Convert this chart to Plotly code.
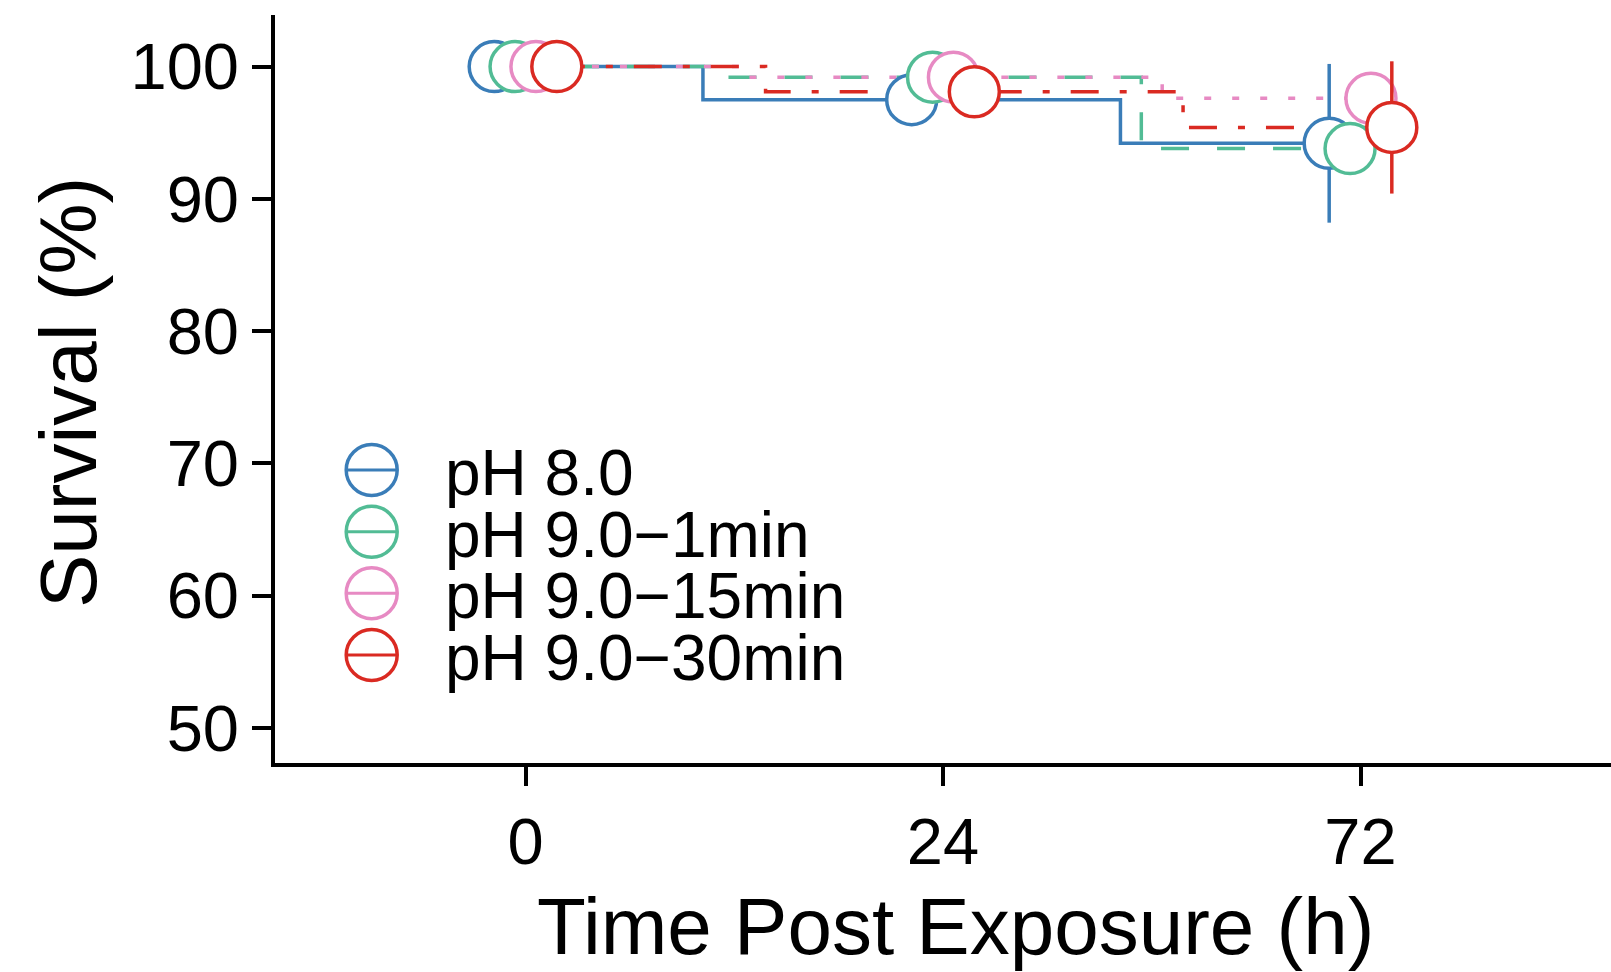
import plotly.graph_objects as go

# Survival at each sampling time, per treatment group
times = ["0", "24", "72"]
groups = ["pH 8.0", "pH 9.0\u22121min", "pH 9.0\u221215min", "pH 9.0\u221230min"]
surv_ph80 = [100.0, 97.5, 94.2]
surv_1min = [100.0, 99.2, 93.8]
surv_15min = [100.0, 99.2, 97.6]
surv_30min = [100.0, 98.1, 95.4]
err_ph80 = [0.0, 0.0, 6.0]
err_1min = [0.0, 0.0, 0.0]
err_15min = [0.0, 0.0, 0.0]
err_30min = [0.0, 0.0, 5.0]

series = [surv_ph80, surv_1min, surv_15min, surv_30min]
errors = [err_ph80, err_1min, err_15min, err_30min]
colors = ["#3A7DB8", "#52BC95", "#E78AC3", "#DA2A22"]
dashes = ["solid", "28px,28px", "7px,21px", "28px,21px,7px,21px"]
dodge = [-0.075, -0.025, 0.025, 0.075]

W, H = 1611, 972
L, R, T, B = 275, 0, 15, 209
FONT = "Liberation Sans, Arial, Helvetica, sans-serif"


def px_x(p):
    return (p - L) / (W - L - R)


def px_y(p):
    return (H - B - p) / (H - T - B)


fig = go.Figure()
pos = list(range(1, len(times) + 1))

# step lines (change halfway between time points)
for vals, col, dsh, off in zip(series, colors, dashes, dodge):
    fig.add_trace(go.Scatter(
        x=[p + off for p in pos], y=vals, mode="lines",
        line=dict(color=col, width=3.5, dash=dsh, shape="hvh"),
        showlegend=False, hoverinfo="skip"))

# points with error bars
for name, vals, errs, col, off in zip(groups, series, errors, colors, dodge):
    fig.add_trace(go.Scatter(
        x=[p + off for p in pos], y=vals, mode="markers", name=name,
        marker=dict(symbol="circle", size=50, color="white",
                    line=dict(color=col, width=3.5)),
        error_y=dict(type="data", array=errs, visible=True, color=col,
                     thickness=3.5, width=0),
        showlegend=False))

# legend drawn inside the plot area
shapes = []
annotations = []
leg_x = 371.7
leg_y = [470.0, 531.7, 593.3, 655.0]
for name, col, ly in zip(groups, colors, leg_y):
    shapes.append(dict(type="line", xref="paper", yref="paper",
                       xsizemode="pixel", ysizemode="pixel",
                       xanchor=px_x(leg_x), yanchor=px_y(ly),
                       x0=-26, x1=26, y0=0, y1=0,
                       line=dict(color=col, width=3)))
    shapes.append(dict(type="circle", xref="paper", yref="paper",
                       xsizemode="pixel", ysizemode="pixel",
                       xanchor=px_x(leg_x), yanchor=px_y(ly),
                       x0=-25.5, x1=25.5, y0=-25.5, y1=25.5,
                       line=dict(color=col, width=3.5)))
    annotations.append(dict(text=name, xref="paper", yref="paper",
                            x=px_x(443), y=px_y(ly + 3), xanchor="left",
                            yanchor="middle", showarrow=False,
                            font=dict(family=FONT, size=64, color="black")))

annotations.append(dict(text="Time Post Exposure (h)", xref="paper", yref="paper",
                        x=px_x(955), y=px_y(926), xanchor="center", yanchor="middle",
                        showarrow=False, font=dict(family=FONT, size=80, color="black")))
annotations.append(dict(text="Survival (%)", xref="paper", yref="paper",
                        x=px_x(68), y=px_y(393), xanchor="center", yanchor="middle",
                        textangle=-90, showarrow=False,
                        font=dict(family=FONT, size=80, color="black")))

fig.update_layout(
    width=W, height=H,
    margin=dict(l=L, r=R, t=T, b=B),
    paper_bgcolor="white", plot_bgcolor="white",
    font=dict(family=FONT, size=64, color="black"),
    shapes=shapes, annotations=annotations,
    showlegend=False,
)
fig.update_xaxes(range=[0.4, 3.6], tickmode="array", tickvals=pos, ticktext=times,
                 showgrid=False, zeroline=False, showline=True, linecolor="black",
                 linewidth=4, ticks="outside", ticklen=19, tickwidth=4,
                 tickcolor="black", tickfont=dict(size=65))
fig.update_yaxes(range=[47.35, 103.9], tickmode="array",
                 tickvals=[50, 60, 70, 80, 90, 100],
                 showgrid=False, zeroline=False, showline=True, linecolor="black",
                 linewidth=4, ticks="outside", ticklen=19, tickwidth=4,
                 tickcolor="black", tickfont=dict(size=65))

fig.write_html("out.html")
